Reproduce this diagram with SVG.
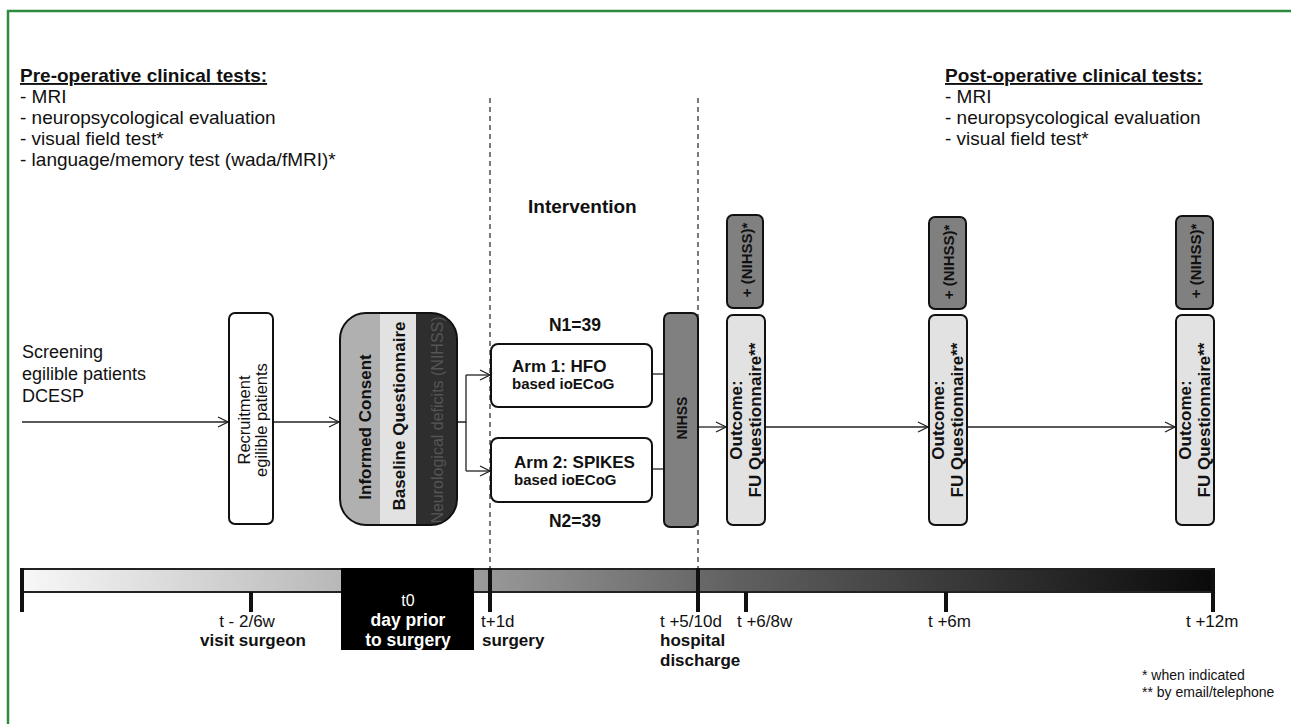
<svg xmlns="http://www.w3.org/2000/svg" width="1291" height="724" viewBox="0 0 1291 724">
<style>
text{font-family:"Liberation Sans",Arial,sans-serif;fill:#111}
.h{font-size:19px;font-weight:bold;text-decoration:underline}
.b{font-size:19px}
.s{font-size:18px}
.bold{font-weight:bold}
.box{stroke:#111;stroke-width:2}
.conn{stroke:#222;stroke-width:1.3;fill:none}
.dash{stroke:#222;stroke-width:1.2;stroke-dasharray:5 4;fill:none}
.tick{stroke:#111;stroke-width:4}
.t{font-size:17px}
.tb{font-size:17px;font-weight:bold}
.rv{font-size:17px;font-weight:bold}
.nh{font-size:15px;font-weight:bold}
.w{fill:#fff}
</style>
<defs>
<marker id="arr" markerWidth="12" markerHeight="12" refX="11" refY="6" orient="auto" markerUnits="userSpaceOnUse">
<path d="M1,1 L11,6 L1,11" fill="none" stroke="#222" stroke-width="1.3"/>
</marker>
<linearGradient id="bar" x1="0" y1="0" x2="1" y2="0">
<stop offset="0" stop-color="#f8f8f8"/>
<stop offset="0.3" stop-color="#b0b0b0"/>
<stop offset="0.6" stop-color="#606060"/>
<stop offset="1" stop-color="#0a0a0a"/>
</linearGradient>
<clipPath id="icClip"><rect x="340" y="313" width="117" height="212" rx="26"/></clipPath>
</defs>
<rect width="1291" height="724" fill="#fff"/>
<path d="M8,730 V11 H1295" fill="none" stroke="#2e8b3e" stroke-width="2.5"/>

<g id="preop">
<text x="20" y="82" class="h">Pre-operative clinical tests:</text>
<text x="20" y="103" class="b">- MRI</text>
<text x="20" y="124" class="b">- neuropsycological evaluation</text>
<text x="20" y="145" class="b">- visual field test*</text>
<text x="20" y="166" class="b">- language/memory test (wada/fMRI)*</text>
</g>
<g id="postop">
<text x="945" y="82" class="h">Post-operative clinical tests:</text>
<text x="945" y="103" class="b">- MRI</text>
<text x="945" y="124" class="b">- neuropsycological evaluation</text>
<text x="945" y="145" class="b">- visual field test*</text>
</g>
<text x="528" y="213" class="b bold">Intervention</text>

<g id="connectors">
<line class="dash" x1="490" y1="98" x2="490" y2="568"/>
<line class="dash" x1="698" y1="98" x2="698" y2="568"/>
<line class="conn" x1="22" y1="422" x2="228" y2="422" marker-end="url(#arr)"/>
<line class="conn" x1="273" y1="422" x2="339" y2="422" marker-end="url(#arr)"/>
<path class="conn" d="M457,422 H466 V375"/>
<line class="conn" x1="466" y1="375" x2="490" y2="375" marker-end="url(#arr)"/>
<path class="conn" d="M466,422 V471"/>
<line class="conn" x1="466" y1="471" x2="490" y2="471" marker-end="url(#arr)"/>
<line class="conn" x1="652" y1="374" x2="664" y2="374"/>
<line class="conn" x1="652" y1="469" x2="664" y2="469"/>
<line class="conn" x1="698" y1="427" x2="726" y2="427" marker-end="url(#arr)"/>
<line class="conn" x1="765" y1="427" x2="928" y2="427" marker-end="url(#arr)"/>
<line class="conn" x1="967" y1="427" x2="1175" y2="427" marker-end="url(#arr)"/>
</g>

<g id="screening">
<text x="22" y="358" class="s">Screening</text>
<text x="22" y="380" class="s">egilible patients</text>
<text x="22" y="402" class="s">DCESP</text>
</g>

<g id="recruitment">
<rect class="box" x="229" y="313" width="44" height="211" rx="6" fill="#fff"/>
<text transform="translate(250,420) rotate(-90)" text-anchor="middle" style="font-size:16.5px">Recruitment</text>
<text transform="translate(267,420) rotate(-90)" text-anchor="middle" style="font-size:16.5px">egilible patients</text>
</g>

<g id="consent">
<g clip-path="url(#icClip)">
<rect x="340" y="313" width="40" height="212" fill="#b0b0b0"/>
<rect x="380" y="313" width="36" height="212" fill="#e2e2e2"/>
<rect x="416" y="313" width="41" height="212" fill="#2e2e2e"/>
<text transform="translate(371,427) rotate(-90)" text-anchor="middle" class="rv">Informed Consent</text>
<text transform="translate(405,416) rotate(-90)" text-anchor="middle" class="rv">Baseline Questionnaire</text>
<text transform="translate(443,420) rotate(-90)" text-anchor="middle" style="font-size:16px;fill:#555">Neurological deficits (NIHSS)</text>
</g>
<rect class="box" x="340" y="313" width="117" height="212" rx="26" fill="none"/>
</g>

<g id="arm1">
<text x="575" y="331" text-anchor="middle" style="font-size:17.5px;font-weight:bold">N1=39</text>
<rect class="box" x="491" y="344" width="161" height="63" rx="7" fill="#fff"/>
<text x="512" y="372" class="rv">Arm 1: HFO</text>
<text x="512" y="389" style="font-size:15px;font-weight:bold">based ioECoG</text>
</g>
<g id="arm2">
<rect class="box" x="491" y="438" width="161" height="64" rx="7" fill="#fff"/>
<text x="514" y="468" class="rv">Arm 2: SPIKES</text>
<text x="514" y="485" style="font-size:15px;font-weight:bold">based ioECoG</text>
<text x="575" y="527" text-anchor="middle" style="font-size:17.5px;font-weight:bold">N2=39</text>
</g>

<g id="nihss">
<rect class="box" x="664" y="313" width="34" height="214" rx="6" fill="#808080"/>
<text transform="translate(687,418) rotate(-90)" text-anchor="middle" style="font-size:14px;font-weight:bold">NIHSS</text>
</g>

<g id="fu1">
<rect class="box" x="727" y="215" width="36" height="93" rx="6" fill="#808080"/>
<text transform="translate(752,260) rotate(-90)" text-anchor="middle" class="nh">+ (NIHSS)*</text>
<rect class="box" x="727" y="315" width="38" height="210" rx="6" fill="#e2e2e2"/>
<text transform="translate(742,420) rotate(-90)" text-anchor="middle" class="rv">Outcome:</text>
<text transform="translate(761,420) rotate(-90)" text-anchor="middle" class="rv">FU Questionnaire**</text>
</g>
<g id="fu2">
<rect class="box" x="929" y="217" width="37" height="92" rx="6" fill="#808080"/>
<text transform="translate(954,262) rotate(-90)" text-anchor="middle" class="nh">+ (NIHSS)*</text>
<rect class="box" x="929" y="315" width="38" height="210" rx="6" fill="#e2e2e2"/>
<text transform="translate(944,420) rotate(-90)" text-anchor="middle" class="rv">Outcome:</text>
<text transform="translate(963,420) rotate(-90)" text-anchor="middle" class="rv">FU Questionnaire**</text>
</g>
<g id="fu3">
<rect class="box" x="1176" y="216" width="37" height="93" rx="6" fill="#808080"/>
<text transform="translate(1201,261) rotate(-90)" text-anchor="middle" class="nh">+ (NIHSS)*</text>
<rect class="box" x="1176" y="315" width="38" height="210" rx="6" fill="#e2e2e2"/>
<text transform="translate(1191,420) rotate(-90)" text-anchor="middle" class="rv">Outcome:</text>
<text transform="translate(1210,420) rotate(-90)" text-anchor="middle" class="rv">FU Questionnaire**</text>
</g>

<g id="timeline">
<rect x="22" y="569" width="1192" height="23" fill="url(#bar)"/>
<line x1="22" y1="569" x2="1214" y2="569" stroke="#222" stroke-width="2"/>
<line x1="22" y1="592" x2="1214" y2="592" stroke="#222" stroke-width="2"/>
<rect x="341" y="568" width="133" height="82" fill="#000"/>
<line class="tick" x1="22" y1="568" x2="22" y2="612"/>
<line class="tick" x1="251" y1="592" x2="251" y2="612"/>
<line class="tick" x1="490" y1="568" x2="490" y2="612"/>
<line class="tick" x1="698" y1="568" x2="698" y2="612"/>
<line class="tick" x1="746" y1="592" x2="746" y2="612"/>
<line class="tick" x1="946" y1="592" x2="946" y2="612"/>
<line class="tick" x1="1213" y1="568" x2="1213" y2="612"/>
<text x="408" y="606" text-anchor="middle" class="w" style="font-size:16px">t0</text>
<text x="408" y="626" text-anchor="middle" class="w" style="font-size:17.5px;font-weight:bold">day prior</text>
<text x="408" y="646" text-anchor="middle" class="w" style="font-size:17.5px;font-weight:bold">to surgery</text>
<text x="247" y="627" text-anchor="middle" class="t">t - 2/6w</text>
<text x="253" y="646" text-anchor="middle" class="tb">visit surgeon</text>
<text x="481" y="627" class="t">t+1d</text>
<text x="482" y="646" class="tb">surgery</text>
<text x="660" y="627" class="t">t +5/10d</text>
<text x="660" y="646" class="tb">hospital</text>
<text x="660" y="666" class="tb">discharge</text>
<text x="737" y="627" class="t">t +6/8w</text>
<text x="928" y="627" class="t">t +6m</text>
<text x="1186" y="627" class="t">t +12m</text>
</g>

<g id="footnotes">
<text x="1142" y="680" style="font-size:14px">* when indicated</text>
<text x="1142" y="697" style="font-size:14px">** by email/telephone</text>
</g>
</svg>
